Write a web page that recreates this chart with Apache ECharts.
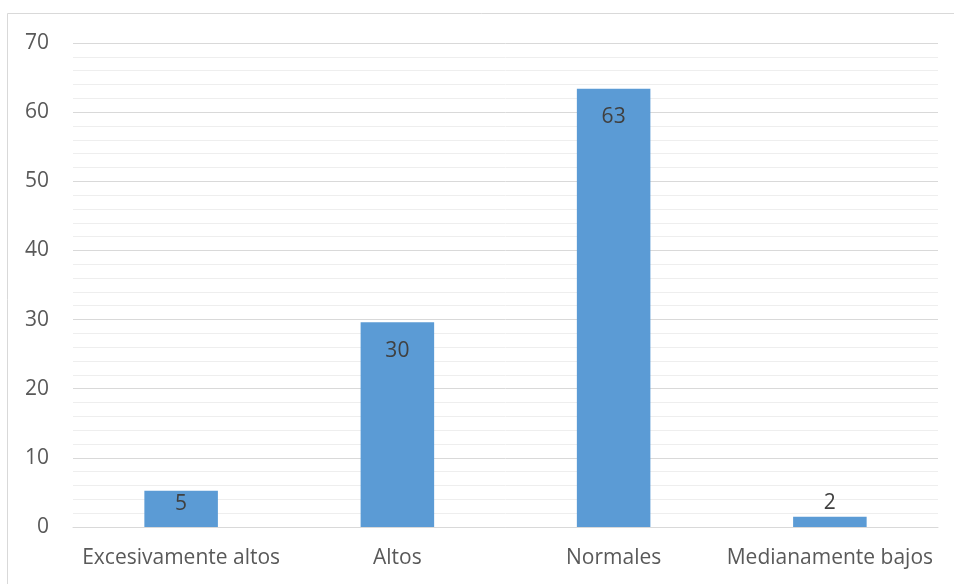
<!DOCTYPE html>
<html>
<head>
<meta charset="utf-8">
<script src="https://cdn.jsdelivr.net/npm/echarts@6/dist/echarts.min.js"></script>
<style>
  html, body { margin: 0; padding: 0; background: #ffffff; }
  #chart { width: 954px; height: 584px; }
</style>
</head>
<body>
<div id="chart"></div>
<script>
// Categories and percentages per group
const categories = ['Excesivamente altos', 'Altos', 'Normales', 'Medianamente bajos'];
const values = [5.25, 29.6, 63.4, 1.5];
const yTicks = { min: 0, max: 70, interval: 10 };

const FONT = 'Open Sans';
const TEXT = '#595959';
const FS = 21;

// Per-bar label placement: tall bars carry the label inside, the short one above
function labelFor(i) {
  if (i === 0) return { position: 'insideTop', distance: 3 };
  if (i === 3) return { position: 'top', distance: 3 };
  return { position: 'insideTop', distance: 18 };
}

const chart = echarts.init(document.getElementById('chart'), null, { renderer: 'canvas' });
chart.setOption({
  animation: false,
  backgroundColor: '#ffffff',
  textStyle: { fontFamily: FONT },
  graphic: [{
    type: 'rect',
    shape: { x: 7.5, y: 13.5, width: 1000, height: 1000 },
    style: { fill: 'none', stroke: '#d9d9d9', lineWidth: 1 },
    silent: true
  }],
  grid: { left: 73, right: 16, top: 43, bottom: 57, containLabel: false },
  xAxis: {
    type: 'category',
    data: categories,
    axisLine: { show: true, lineStyle: { color: '#d9d9d9', width: 1 } },
    axisTick: { show: false },
    axisLabel: { color: TEXT, fontSize: FS, fontFamily: FONT, margin: 21, interval: 0 },
    splitLine: { show: false }
  },
  yAxis: {
    type: 'value',
    min: yTicks.min,
    max: yTicks.max,
    interval: yTicks.interval,
    axisLine: { show: false },
    axisTick: { show: false },
    axisLabel: { color: TEXT, fontSize: FS, fontFamily: FONT, margin: 24 },
    splitLine: { show: true, lineStyle: { color: '#d9d9d9', width: 1 } },
    minorTick: { show: false, splitNumber: 5 },
    minorSplitLine: { show: true, lineStyle: { color: '#eeeeee', width: 1 } }
  },
  series: [{
    type: 'bar',
    barWidth: '34%',
    data: values.map((v, i) => ({ value: v, label: labelFor(i) })),
    itemStyle: { color: '#5b9bd5' },
    label: {
      show: true,
      color: '#404040',
      fontSize: FS,
      fontFamily: FONT,
      formatter: p => String(Math.round(p.value))
    }
  }]
});
</script>
</body>
</html>
